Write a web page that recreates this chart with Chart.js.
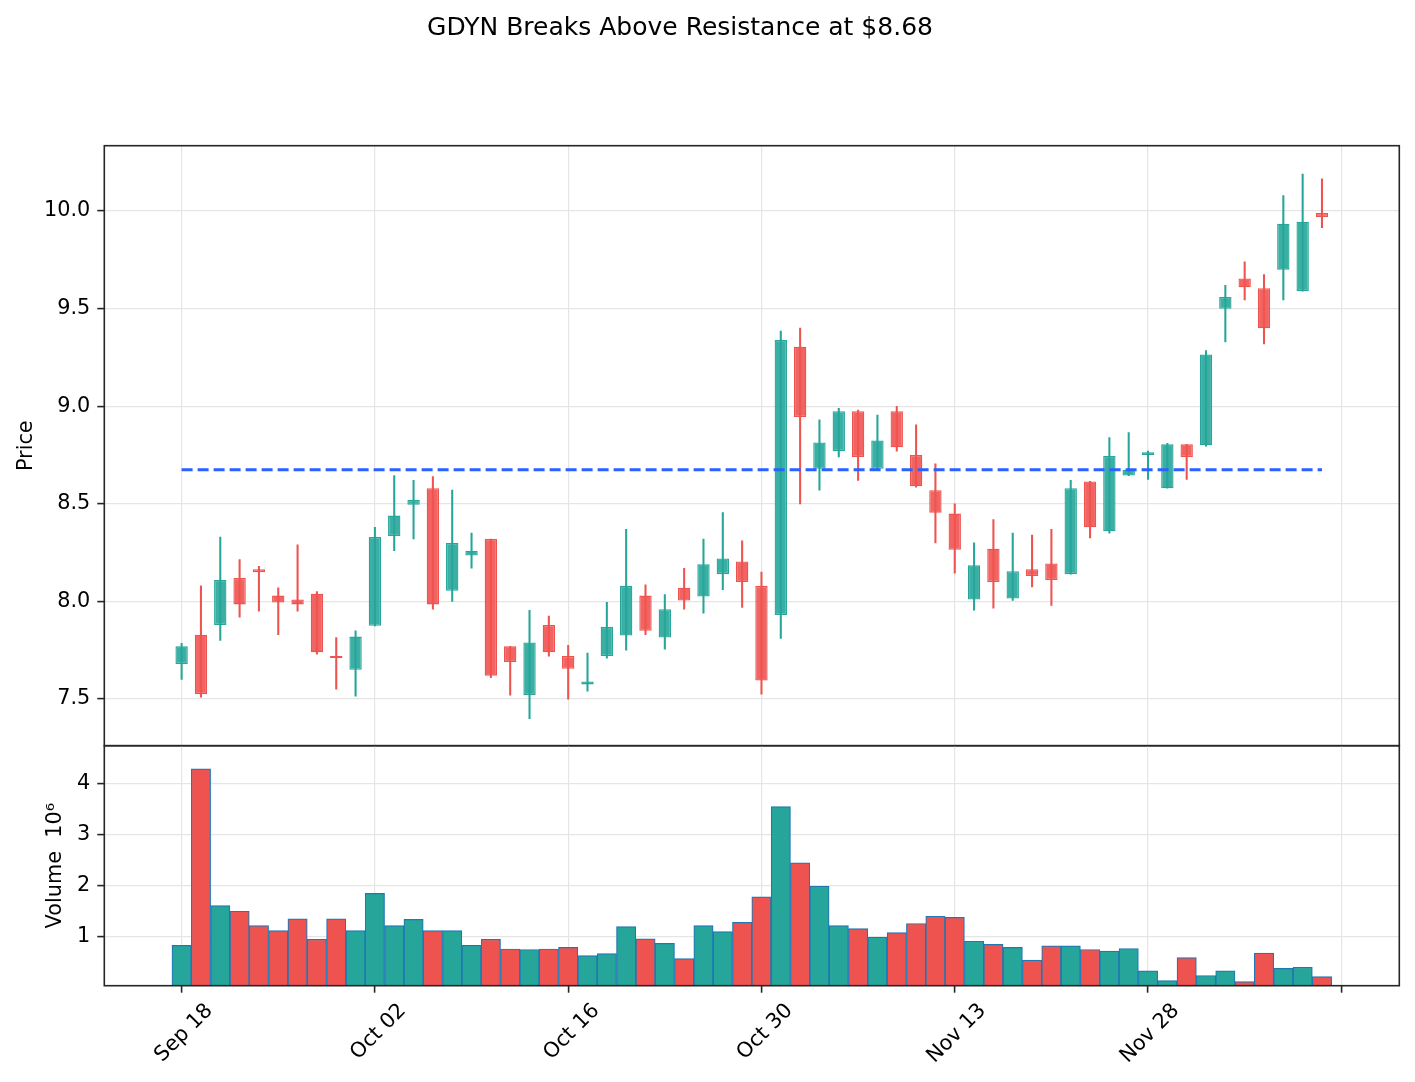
<!DOCTYPE html>
<html>
<head>
<meta charset="utf-8">
<title>GDYN Breaks Above Resistance at $8.68</title>
<script src="https://cdn.jsdelivr.net/npm/chart.js@4.4.0/dist/chart.umd.min.js"></script>
<style>
    html, body { margin: 0; padding: 0; background: #fff; }
    #wrap { position: relative; width: 1415px; height: 1082px; overflow: hidden; font-family: 'DejaVu Sans', sans-serif; }
    #title { position: absolute; left: 0; top: 12px; width: 1360px; text-align: center; font-size: 25px; line-height: 30px; color: #000; }
    #price { position: absolute; left: 0; top: 0; }
    #volume { position: absolute; left: 0; top: 730px; }
</style>
</head>
<body>
<div id="wrap">
    <canvas id="price" width="1415" height="760"></canvas>
    <canvas id="volume" width="1415" height="352"></canvas>
    <div id="title">GDYN Breaks Above Resistance at $8.68</div>
</div>
<script>
// trading days 0..59 (Sep 18 -> Dec 11), ticks every 10 sessions
const tickIdx = [0, 10, 20, 30, 40, 50, 60];
const tickLabels = ['Sep 18', 'Oct 02', 'Oct 16', 'Oct 30', 'Nov 13', 'Nov 28', ''];

const opens = [7.68, 7.83, 7.88, 8.12, 8.165, 8.03, 8.01, 8.04, 7.72, 7.65,
    7.875, 8.335, 8.495, 8.58, 8.055, 8.235, 8.32, 7.77, 7.52, 7.88,
    7.72, 7.575, 7.72, 7.825, 8.03, 7.815, 8.07, 8.025, 8.14, 8.205,
    8.08, 7.93, 9.305, 8.68, 8.77, 8.975, 8.68, 8.975, 8.75, 8.57,
    8.45, 8.01, 8.27, 8.015, 8.165, 8.195, 8.14, 8.615, 8.36, 8.645,
    8.75, 8.58, 8.805, 8.80, 9.50, 9.655, 9.605, 9.70, 9.59, 9.99];
const highs = [7.785, 8.08, 8.33, 8.215, 8.18, 8.07, 8.29, 8.05, 7.815, 7.85,
    8.38, 8.645, 8.62, 8.64, 8.57, 8.35, 8.32, 7.77, 7.955, 7.925,
    7.775, 7.735, 7.995, 8.37, 8.085, 8.035, 8.17, 8.32, 8.455, 8.31,
    8.15, 9.385, 9.40, 8.93, 8.99, 8.98, 8.955, 9.00, 8.905, 8.705,
    8.50, 8.30, 8.42, 8.35, 8.34, 8.37, 8.62, 8.615, 8.84, 8.865,
    8.77, 8.81, 8.805, 9.285, 9.62, 9.74, 9.675, 10.08, 10.19, 10.165];
const lows = [7.60, 7.51, 7.80, 7.92, 7.95, 7.83, 7.95, 7.73, 7.55, 7.515,
    7.875, 8.26, 8.32, 7.96, 8.00, 8.17, 7.61, 7.52, 7.40, 7.72,
    7.50, 7.54, 7.71, 7.75, 7.83, 7.755, 7.96, 7.94, 8.06, 7.97,
    7.525, 7.81, 8.50, 8.57, 8.74, 8.62, 8.675, 8.77, 8.585, 8.30,
    8.145, 7.955, 7.965, 8.005, 8.075, 7.98, 8.14, 8.325, 8.35, 8.645,
    8.625, 8.58, 8.625, 8.795, 9.33, 9.545, 9.32, 9.545, 9.59, 9.915];
const closes = [7.77, 7.525, 8.11, 7.985, 8.15, 7.995, 7.985, 7.74, 7.71, 7.82,
    8.33, 8.44, 8.52, 7.985, 8.30, 8.26, 7.62, 7.69, 7.79, 7.74,
    7.655, 7.59, 7.87, 8.08, 7.85, 7.96, 8.005, 8.19, 8.22, 8.10,
    7.595, 9.34, 8.945, 8.815, 8.975, 8.74, 8.825, 8.79, 8.59, 8.455,
    8.265, 8.185, 8.10, 8.155, 8.13, 8.11, 8.58, 8.38, 8.745, 8.675,
    8.765, 8.805, 8.74, 9.265, 9.56, 9.61, 9.40, 9.935, 9.945, 9.97];
// volume in millions of shares
const volumes = [0.83, 4.29, 1.61, 1.50, 1.22, 1.12, 1.35, 0.95, 1.35, 1.12,
    1.85, 1.22, 1.34, 1.12, 1.12, 0.83, 0.95, 0.76, 0.75, 0.76,
    0.79, 0.63, 0.67, 1.20, 0.96, 0.87, 0.57, 1.22, 1.10, 1.28,
    1.78, 3.55, 2.45, 1.99, 1.22, 1.16, 0.99, 1.08, 1.26, 1.40,
    1.38, 0.91, 0.85, 0.79, 0.54, 0.82, 0.82, 0.75, 0.72, 0.77,
    0.33, 0.14, 0.59, 0.24, 0.33, 0.12, 0.68, 0.38, 0.40, 0.22];

const priceTicks = [7.5, 8.0, 8.5, 9.0, 9.5, 10.0];
const volTicks = [1, 2, 3, 4];
const resistance = 8.675;

document.addEventListener('DOMContentLoaded', () => {

    const UP = '#26a69a', DOWN = '#ef5350';
    const UP_FILL = 'rgba(38,166,154,0.9)', DOWN_FILL = 'rgba(239,83,80,0.9)';
    const GRID = '#e5e5e5', INK = '#262626';
    const FS = 20.8;

    Chart.defaults.font.family = "'DejaVu Sans', sans-serif";
    Chart.defaults.font.size = FS;
    Chart.defaults.color = '#000';

    const idx = opens.map((_, i) => i);
    const up = idx.map(i => closes[i] >= opens[i]);

    // box around each panel
    const frame = {
        id: 'frame',
        afterDraw(chart) {
            const { ctx, chartArea: a } = chart;
            ctx.save();
            ctx.strokeStyle = INK;
            ctx.lineWidth = 1.6;
            ctx.strokeRect(a.left, a.top, a.right - a.left, a.bottom - a.top);
            ctx.restore();
        }
    };

    // fixed axis sizes, no extra room for overhanging labels
    const fixSize = (w, h) => s => {
        if (w !== null) s.width = w;
        if (h !== null) s.height = h;
        s.paddingTop = s.paddingBottom = s.paddingLeft = s.paddingRight = 0;
    };

    const xBase = {
        type: 'linear', min: -4, max: 63, offset: false,
        afterBuildTicks: s => { s.ticks = tickIdx.map(v => ({ value: v })); }
    };
    const yWidth = 104.3;

    new Chart(document.getElementById('price'), {
        type: 'bar',
        data: {
            datasets: [
                {
                    type: 'line',
                    data: [{ x: 0, y: resistance }, { x: opens.length - 1, y: resistance }],
                    borderColor: '#2962ff', borderWidth: 3, borderDash: [11, 5],
                    pointRadius: 0, order: 0
                },
                {
                    data: idx.map(i => ({ x: i, y: [opens[i], closes[i]] })),
                    backgroundColor: up.map(u => u ? UP_FILL : DOWN_FILL),
                    borderColor: up.map(u => u ? UP : DOWN),
                    borderWidth: 1.3, borderSkipped: false,
                    barPercentage: 0.64, categoryPercentage: 1, grouped: false, order: 1
                },
                {
                    data: idx.map(i => ({ x: i, y: [lows[i], highs[i]] })),
                    backgroundColor: up.map(u => u ? UP : DOWN),
                    barThickness: 1.4, grouped: false, order: 2
                }
            ]
        },
        options: {
            responsive: false, animation: false,
            layout: { padding: { top: 145.7, bottom: 14.3, left: 0, right: 15.7 } },
            plugins: { legend: { display: false }, tooltip: { enabled: false } },
            scales: {
                x: {
                    ...xBase,
                    grid: { offset: false, color: GRID, lineWidth: 1.2, drawTicks: false },
                    border: { display: false },
                    ticks: { display: false },
                    afterFit: fixSize(null, 0)
                },
                y: {
                    min: 7.261, max: 10.335,
                    grid: { color: GRID, lineWidth: 1.2, tickColor: INK, tickLength: 7, tickWidth: 1.6 },
                    border: { display: false },
                    ticks: { padding: 7, callback: v => v.toFixed(1) },
                    afterBuildTicks: s => { s.ticks = priceTicks.map(v => ({ value: v })); },
                    afterFit: fixSize(yWidth, null),
                    title: { display: true, text: 'Price', padding: { top: 14, bottom: 0 } }
                }
            }
        },
        plugins: [frame]
    });

    new Chart(document.getElementById('volume'), {
        type: 'bar',
        data: {
            datasets: [{
                data: idx.map(i => ({ x: i, y: volumes[i] })),
                backgroundColor: up.map(u => u ? UP : DOWN),
                borderColor: '#1f77b4', borderWidth: 1.2, borderSkipped: false,
                barPercentage: 1, categoryPercentage: 1, grouped: false
            }]
        },
        options: {
            responsive: false, animation: false,
            layout: { padding: { top: 15.7, bottom: 0, left: 0, right: 15.7 } },
            plugins: { legend: { display: false }, tooltip: { enabled: false } },
            scales: {
                x: {
                    ...xBase,
                    grid: { offset: false, color: GRID, lineWidth: 1.2, tickColor: INK, tickLength: 7, tickWidth: 1.6 },
                    border: { display: false },
                    ticks: {
                        autoSkip: false, minRotation: 45, maxRotation: 45,
                        padding: 6, labelOffset: 28,
                        callback: (v, i) => tickLabels[i]
                    },
                    afterFit: fixSize(null, 96.3)
                },
                y: {
                    min: 0.04, max: 4.745,
                    grid: { color: GRID, lineWidth: 1.2, tickColor: INK, tickLength: 7, tickWidth: 1.6 },
                    border: { display: false },
                    ticks: { padding: 7, callback: v => String(v) },
                    afterBuildTicks: s => { s.ticks = volTicks.map(v => ({ value: v })); },
                    afterFit: fixSize(yWidth, null),
                    title: { display: true, text: 'Volume  10\u2076', padding: { top: 43, bottom: 0 } }
                }
            }
        },
        plugins: [frame]
    });
});
</script>
</body>
</html>
